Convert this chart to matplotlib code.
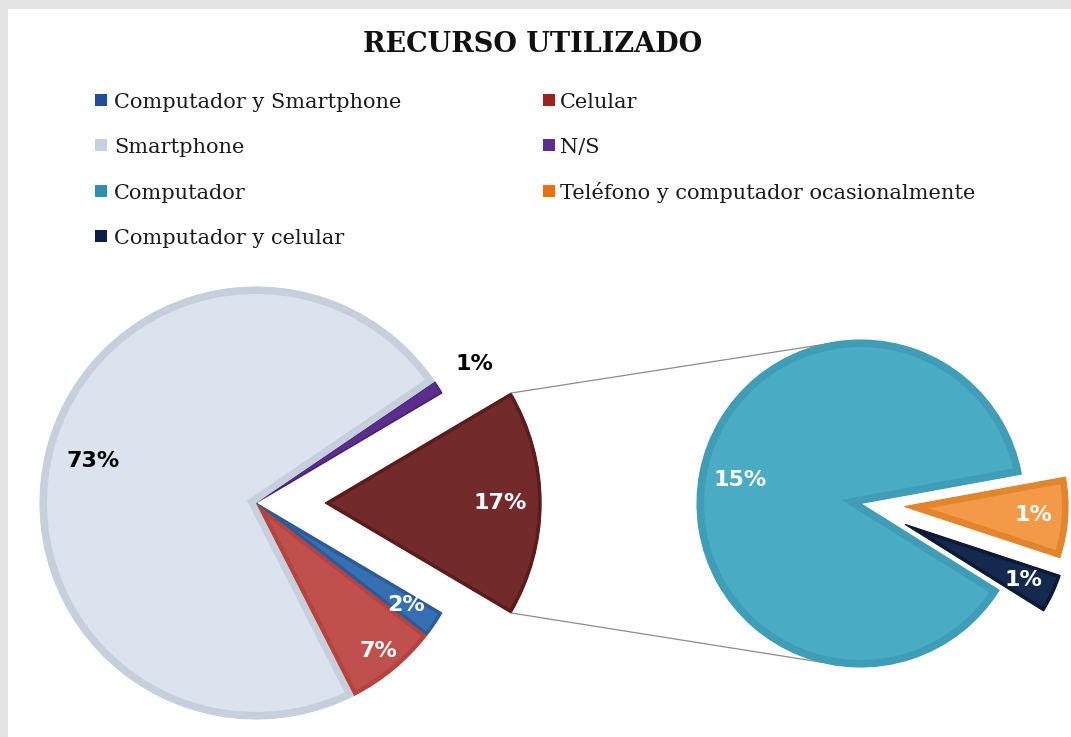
import matplotlib
matplotlib.use("Agg")
import matplotlib.pyplot as plt
from matplotlib.patches import Rectangle, Wedge
import numpy as np

# ---------------- data ----------------
title = "RECURSO UTILIZADO"

main_labels = ["Otros", "N/S", "Smartphone", "Celular", "Computador y Smartphone"]
main_values = [17, 1, 73, 7, 2]
main_colors = ["#732a2a", "#5b2d8c", "#dbe3ef", "#c0504d", "#3670b3"]
main_edges = ["#5a1c1c", "#4a2275", "#c6cfdc", "#b8423e", "#2b5c99"]
main_bevel = [3, 1, 7, 4, 3]
main_label_colors = ["white", "black", "black", "white", "white"]

sec_labels = ["Computador y celular", "Teléfono y computador ocasionalmente", "Computador"]
sec_values = [0.65, 1.35, 15]
sec_colors = ["#15294f", "#f29a47", "#4aabc5"]
sec_edges = ["#0c1a36", "#e3852c", "#3f9db8"]
sec_bevel = [3, 6, 7]
sec_label_colors = ["white", "white", "white"]

legend_labels = ["Computador y Smartphone", "Celular", "Smartphone", "N/S",
                 "Computador", "Teléfono y computador ocasionalmente",
                 "Computador y celular"]
legend_colors = ["#1f4f9c", "#a01f1f", "#c5d0e3", "#5a2d90",
                 "#2a90ad", "#e8700f", "#0e1f47"]

# ---------------- figure ----------------
W, H = 1071, 737
fig = plt.figure(figsize=(W / 100, H / 100), dpi=100)
fig.patch.set_facecolor("#e4e4e4")
ax = fig.add_axes([0, 0, 1, 1])
ax.add_patch(Rectangle((8, 0), W - 8, H - 9, facecolor="white",
                       edgecolor="none", zorder=0))


def add_bevel(wedges, edges, widths):
    # inner band along each wedge border, clipped to the wedge itself
    for w, ec, bw in zip(wedges, edges, widths):
        w.set_edgecolor(ec)
        w.set_linewidth(0.8)
        b = Wedge(w.center, w.r, w.theta1, w.theta2, facecolor="none",
                  edgecolor=ec, linewidth=2 * bw * 72 / 100,
                  zorder=w.get_zorder() + 0.01)
        ax.add_patch(b)
        b.set_clip_path(w)


# main pie
mc = (256, H - 503)
mr = 216
start_main = -180.0 * main_values[0] / sum(main_values)
wm, _ = ax.pie(main_values, colors=main_colors, startangle=start_main,
               counterclock=True, center=mc, radius=mr,
               explode=[0.32 * mr, 0, 0, 0, 0], frame=True)
add_bevel(wm, main_edges, main_bevel)

# secondary pie
sc = (860.5, H - 503.5)
sr = 163.5
wsec, _ = ax.pie(sec_values, colors=sec_colors, startangle=-32,
                 counterclock=True, center=sc, radius=sr,
                 explode=[0.30 * sr, 0.27 * sr, 0], frame=True)
add_bevel(wsec, sec_edges, sec_bevel)


# data labels
def put_labels(wedges, values, total, fracs, colors):
    for w, v, f, c in zip(wedges, values, fracs, colors):
        th = np.deg2rad((w.theta1 + w.theta2) / 2)
        x = w.center[0] + f * w.r * np.cos(th)
        y = w.center[1] + f * w.r * np.sin(th)
        ax.text(x, y, f"{round(100 * v / total)}%", ha="center", va="center",
                color=c, fontsize=16, fontweight="bold",
                family="DejaVu Sans", zorder=5)


tot = sum(main_values)
put_labels(wm, main_values, tot, [0.81, 1.2, 0.78, 0.89, 0.84], main_label_colors)
put_labels(wsec, sec_values, tot, [0.8, 0.79, 0.75], sec_label_colors)

# connector lines
ow = wm[0]
for a_main, a_sec in [(ow.theta2, 104), (ow.theta1, 256)]:
    p1 = (ow.center[0] + ow.r * np.cos(np.deg2rad(a_main)),
          ow.center[1] + ow.r * np.sin(np.deg2rad(a_main)))
    p2 = (sc[0] + sr * np.cos(np.deg2rad(a_sec)),
          sc[1] + sr * np.sin(np.deg2rad(a_sec)))
    ax.plot([p1[0], p2[0]], [p1[1], p2[1]], color="#8c8c8c", lw=0.9, zorder=1)

# title
ax.text(533, H - 52, title, ha="center", va="baseline", fontsize=19.5,
        fontweight="bold", family="DejaVu Serif", color="#111111")

# legend (two columns, row-wise order)
sw_x = [95, 543]
tx_x = [114, 560]
for i, (lab, col) in enumerate(zip(legend_labels, legend_colors)):
    r, c = divmod(i, 2)
    yc = 100 + 45.3 * r
    ax.add_patch(Rectangle((sw_x[c], H - yc - 6), 12, 12, facecolor=col,
                           edgecolor="none"))
    ax.text(tx_x[c], H - (108 + 45.3 * r), lab, ha="left", va="baseline",
            fontsize=15, family="DejaVu Serif", color="#1a1a1a")

ax.set_xlim(0, W)
ax.set_ylim(0, H)
ax.set_aspect("auto")
ax.axis("off")
fig.savefig("out.png", dpi=100, facecolor=fig.get_facecolor())
